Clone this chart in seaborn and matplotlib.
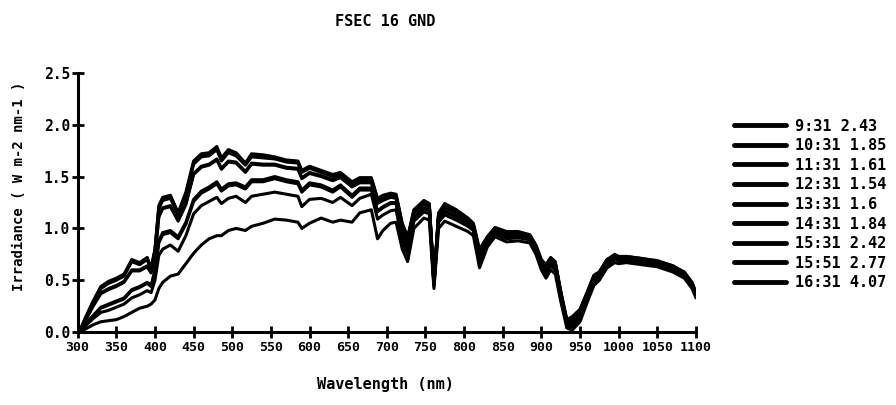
import matplotlib
matplotlib.use("Agg")
import matplotlib.pyplot as plt
import pandas as pd
import seaborn as sns

# wavelength grid (nm)
wavelength = [300, 305, 310, 320, 330, 340, 350, 360, 370, 380,
              390, 395, 400, 405, 410, 420, 430, 440, 450, 460,
              470, 480, 486, 495, 505, 517, 525, 540, 555, 570,
              585, 590, 600, 615, 630, 640, 655, 665, 680, 688,
              695, 705, 712, 720, 727, 735, 748, 755, 761, 767,
              775, 790, 805, 812, 820, 830, 840, 855, 870, 885,
              893, 900, 906, 912, 918, 925, 933, 940, 950, 960,
              968, 975, 985, 995, 1000, 1010, 1030, 1050, 1070, 1085,
              1095, 1100]

scan_times = ["9:31", "10:31", "11:31", "12:31", "13:31", "14:31", "15:31", "15:51", "16:31"]
air_mass = ["2.43", "1.85", "1.61", "1.54", "1.6", "1.84", "2.42", "2.77", "4.07"]

irr_0931 = [0.00, 0.03, 0.08, 0.15, 0.23, 0.26, 0.29, 0.32, 0.40, 0.43,
            0.47, 0.44, 0.58, 0.86, 0.94, 0.96, 0.90, 1.04, 1.26, 1.34,
            1.38, 1.43, 1.36, 1.41, 1.42, 1.38, 1.45, 1.45, 1.48, 1.45,
            1.43, 1.35, 1.42, 1.40, 1.35, 1.40, 1.30, 1.37, 1.37, 1.16,
            1.20, 1.24, 1.24, 0.94, 0.78, 1.10, 1.19, 1.17, 0.46, 1.08,
            1.16, 1.11, 1.04, 0.99, 0.70, 0.86, 0.96, 0.91, 0.92, 0.90,
            0.79, 0.64, 0.58, 0.65, 0.61, 0.34, 0.07, 0.07, 0.16, 0.35,
            0.49, 0.54, 0.66, 0.71, 0.69, 0.70, 0.68, 0.65, 0.60, 0.55,
            0.45, 0.35]
irr_1031 = [0.00, 0.04, 0.11, 0.25, 0.37, 0.41, 0.44, 0.48, 0.59, 0.59,
            0.63, 0.57, 0.71, 1.11, 1.19, 1.21, 1.07, 1.23, 1.52, 1.59,
            1.61, 1.66, 1.57, 1.64, 1.63, 1.54, 1.62, 1.61, 1.61, 1.58,
            1.57, 1.48, 1.53, 1.50, 1.46, 1.49, 1.40, 1.44, 1.44, 1.24,
            1.27, 1.30, 1.29, 1.00, 0.85, 1.15, 1.23, 1.21, 0.47, 1.12,
            1.20, 1.15, 1.07, 1.02, 0.75, 0.89, 0.98, 0.94, 0.94, 0.92,
            0.81, 0.67, 0.61, 0.69, 0.65, 0.37, 0.09, 0.11, 0.19, 0.37,
            0.52, 0.56, 0.68, 0.73, 0.71, 0.71, 0.69, 0.67, 0.62, 0.56,
            0.46, 0.36]
irr_1131 = [0.00, 0.05, 0.13, 0.28, 0.42, 0.47, 0.50, 0.54, 0.68, 0.65,
            0.70, 0.60, 0.78, 1.19, 1.27, 1.29, 1.13, 1.32, 1.62, 1.69,
            1.70, 1.76, 1.65, 1.73, 1.70, 1.61, 1.69, 1.68, 1.67, 1.64,
            1.63, 1.54, 1.58, 1.54, 1.50, 1.52, 1.43, 1.47, 1.47, 1.27,
            1.30, 1.32, 1.31, 1.03, 0.89, 1.16, 1.25, 1.22, 0.49, 1.13,
            1.22, 1.16, 1.08, 1.03, 0.77, 0.90, 0.99, 0.95, 0.96, 0.93,
            0.82, 0.68, 0.63, 0.70, 0.66, 0.38, 0.10, 0.13, 0.21, 0.39,
            0.54, 0.57, 0.69, 0.74, 0.72, 0.72, 0.70, 0.68, 0.63, 0.57,
            0.47, 0.37]
irr_1231 = [0.00, 0.05, 0.14, 0.30, 0.44, 0.49, 0.52, 0.56, 0.70, 0.67,
            0.72, 0.62, 0.80, 1.22, 1.30, 1.32, 1.15, 1.35, 1.65, 1.72,
            1.73, 1.79, 1.68, 1.76, 1.73, 1.63, 1.72, 1.71, 1.69, 1.66,
            1.65, 1.56, 1.60, 1.56, 1.52, 1.54, 1.45, 1.49, 1.49, 1.29,
            1.32, 1.34, 1.33, 1.05, 0.92, 1.18, 1.27, 1.24, 0.50, 1.15,
            1.24, 1.18, 1.10, 1.05, 0.80, 0.92, 1.01, 0.97, 0.97, 0.94,
            0.84, 0.70, 0.65, 0.72, 0.68, 0.40, 0.12, 0.15, 0.22, 0.40,
            0.55, 0.58, 0.70, 0.75, 0.73, 0.73, 0.71, 0.69, 0.64, 0.58,
            0.48, 0.38]
irr_1331 = [0.00, 0.05, 0.13, 0.29, 0.43, 0.48, 0.51, 0.55, 0.69, 0.66,
            0.71, 0.61, 0.79, 1.20, 1.28, 1.31, 1.14, 1.33, 1.63, 1.71,
            1.72, 1.77, 1.67, 1.74, 1.72, 1.62, 1.70, 1.70, 1.68, 1.65,
            1.64, 1.55, 1.59, 1.55, 1.51, 1.53, 1.44, 1.48, 1.48, 1.28,
            1.31, 1.33, 1.32, 1.04, 0.90, 1.17, 1.26, 1.23, 0.49, 1.14,
            1.23, 1.17, 1.09, 1.04, 0.78, 0.91, 1.00, 0.96, 0.96, 0.93,
            0.83, 0.69, 0.64, 0.71, 0.67, 0.39, 0.11, 0.14, 0.21, 0.39,
            0.54, 0.58, 0.70, 0.74, 0.72, 0.73, 0.71, 0.68, 0.64, 0.57,
            0.47, 0.38]
irr_1431 = [0.00, 0.04, 0.12, 0.26, 0.38, 0.42, 0.45, 0.49, 0.60, 0.60,
            0.64, 0.58, 0.72, 1.12, 1.20, 1.22, 1.08, 1.24, 1.53, 1.60,
            1.62, 1.67, 1.58, 1.65, 1.64, 1.55, 1.63, 1.62, 1.62, 1.59,
            1.58, 1.49, 1.54, 1.51, 1.47, 1.50, 1.41, 1.45, 1.45, 1.25,
            1.28, 1.31, 1.30, 1.01, 0.86, 1.16, 1.24, 1.22, 0.48, 1.13,
            1.21, 1.16, 1.08, 1.03, 0.76, 0.90, 0.99, 0.95, 0.95, 0.93,
            0.82, 0.68, 0.62, 0.70, 0.66, 0.38, 0.10, 0.12, 0.20, 0.38,
            0.53, 0.57, 0.69, 0.74, 0.72, 0.72, 0.70, 0.68, 0.63, 0.57,
            0.47, 0.37]
irr_1531 = [0.00, 0.03, 0.08, 0.16, 0.24, 0.27, 0.30, 0.33, 0.41, 0.44,
            0.48, 0.45, 0.60, 0.88, 0.96, 0.98, 0.92, 1.06, 1.28, 1.36,
            1.40, 1.45, 1.38, 1.43, 1.44, 1.40, 1.47, 1.47, 1.50, 1.47,
            1.45, 1.37, 1.44, 1.42, 1.37, 1.42, 1.32, 1.39, 1.39, 1.17,
            1.21, 1.25, 1.25, 0.95, 0.79, 1.11, 1.20, 1.18, 0.46, 1.09,
            1.17, 1.12, 1.05, 1.00, 0.71, 0.87, 0.97, 0.92, 0.93, 0.91,
            0.80, 0.65, 0.59, 0.66, 0.62, 0.35, 0.08, 0.08, 0.17, 0.36,
            0.50, 0.55, 0.67, 0.72, 0.70, 0.70, 0.68, 0.66, 0.61, 0.55,
            0.45, 0.36]
irr_1551 = [0.00, 0.02, 0.06, 0.13, 0.19, 0.21, 0.24, 0.27, 0.33, 0.36,
            0.40, 0.38, 0.50, 0.74, 0.80, 0.84, 0.78, 0.93, 1.14, 1.22,
            1.26, 1.30, 1.24, 1.29, 1.31, 1.25, 1.31, 1.33, 1.35, 1.33,
            1.31, 1.21, 1.28, 1.29, 1.25, 1.30, 1.22, 1.29, 1.33, 1.09,
            1.13, 1.17, 1.18, 0.88, 0.74, 1.07, 1.16, 1.14, 0.44, 1.06,
            1.13, 1.08, 1.02, 0.98, 0.67, 0.85, 0.95, 0.90, 0.91, 0.89,
            0.78, 0.63, 0.56, 0.64, 0.60, 0.33, 0.06, 0.05, 0.14, 0.34,
            0.48, 0.53, 0.65, 0.70, 0.69, 0.69, 0.67, 0.65, 0.60, 0.54,
            0.44, 0.35]
irr_1631 = [0.00, 0.01, 0.03, 0.07, 0.10, 0.11, 0.12, 0.15, 0.19, 0.23,
            0.25, 0.27, 0.31, 0.42, 0.48, 0.54, 0.56, 0.66, 0.76, 0.84,
            0.90, 0.93, 0.93, 0.98, 1.00, 0.98, 1.02, 1.05, 1.09, 1.08,
            1.06, 1.00, 1.05, 1.10, 1.06, 1.08, 1.06, 1.15, 1.18, 0.90,
            0.98, 1.05, 1.06, 0.80, 0.68, 1.00, 1.10, 1.08, 0.42, 1.00,
            1.07, 1.02, 0.97, 0.93, 0.62, 0.82, 0.92, 0.87, 0.88, 0.86,
            0.75, 0.60, 0.52, 0.60, 0.56, 0.30, 0.04, 0.02, 0.10, 0.30,
            0.45, 0.50, 0.62, 0.67, 0.66, 0.67, 0.65, 0.63, 0.58, 0.52,
            0.42, 0.33]

series = [irr_0931, irr_1031, irr_1131, irr_1231, irr_1331,
          irr_1431, irr_1531, irr_1551, irr_1631]
labels = [f"{t} {m}" for t, m in zip(scan_times, air_mass)]

x_ticks = list(range(300, 1101, 50))
y_ticks = [0.0, 0.5, 1.0, 1.5, 2.0, 2.5]
y_tick_labels = ["0.0", "0.5", "1.0", "1.5", "2.0", "2.5"]

frames = []
for label, values in zip(labels, series):
    frames.append(pd.DataFrame({"Wavelength": wavelength, "Irradiance": values, "Scan": label}))
df = pd.concat(frames, ignore_index=True)

sns.set_style("ticks")
plt.rcParams["font.family"] = ["DejaVu Sans Mono", "DejaVu Sans"]
plt.rcParams["font.weight"] = "bold"
for key in ["text.color", "axes.labelcolor", "xtick.color", "ytick.color"]:
    plt.rcParams[key] = "black"

fig = plt.figure(figsize=(8.96, 4.05), dpi=100)
ax = fig.add_axes([0.0867, 0.180, 0.690, 0.640])

sns.lineplot(data=df, x="Wavelength", y="Irradiance", hue="Scan", hue_order=labels,
             palette=["black"] * len(labels), linewidth=2.2, estimator=None,
             sort=False, ax=ax)

ax.set_xlim(300, 1100)
ax.set_ylim(0, 2.5)
ax.set_xticks(x_ticks)
ax.set_xticklabels([str(t) for t in x_ticks], fontsize=9.5, fontweight="bold")
ax.set_yticks(y_ticks)
ax.set_yticklabels(y_tick_labels, fontsize=10.5, fontweight="bold")
ax.tick_params(direction="inout", length=9, width=2, color="black", pad=1)
ax.tick_params(axis="x", pad=2)
sns.despine(ax=ax)
for side in ["left", "bottom"]:
    ax.spines[side].set_linewidth(2.2)
    ax.spines[side].set_color("black")

ax.set_xlabel("Wavelength (nm)", fontsize=11, fontweight="bold")
ax.xaxis.set_label_coords(0.497, -0.175)
ax.set_ylabel("Irradiance ( W m-2 nm-1 )", fontsize=10, fontweight="bold")
ax.yaxis.set_label_coords(-0.083, 0.564)
ax.text(0.497, 1.20, "FSEC 16 GND", transform=ax.transAxes, ha="center",
        va="center", fontsize=11, fontweight="bold")

handles, leg_labels = ax.get_legend_handles_labels()
leg = ax.legend(handles, leg_labels, loc="upper left",
                bbox_to_anchor=(726 / 896, 1 - 111 / 405),
                bbox_transform=fig.transFigure, frameon=False, borderpad=0,
                handlelength=3.4, handletextpad=0.6, labelspacing=0.30,
                prop={"size": 11, "weight": "bold"})
for line in leg.get_lines():
    line.set_linewidth(3.5)

plt.savefig("out.png", dpi=100)
